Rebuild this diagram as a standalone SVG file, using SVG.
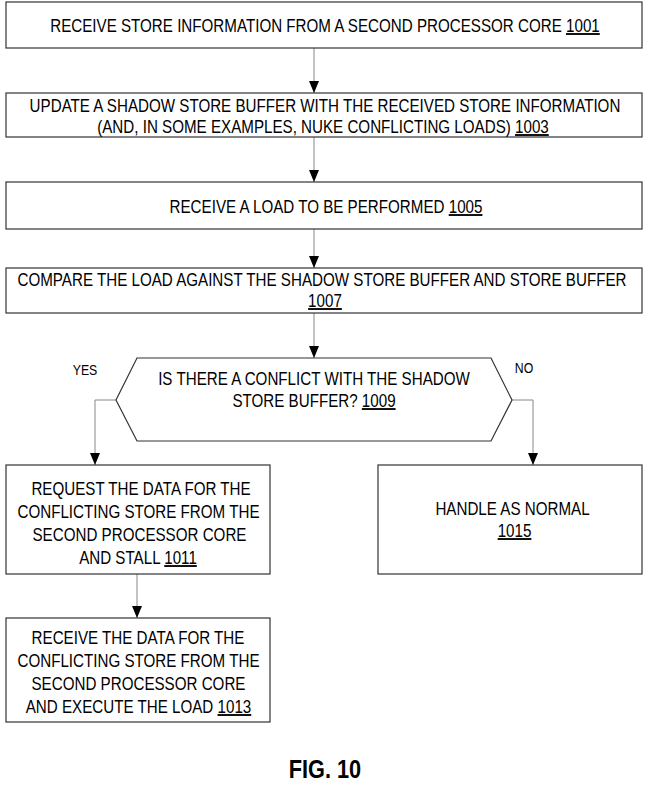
<svg xmlns="http://www.w3.org/2000/svg" width="650" height="800" viewBox="0 0 650 800">
<defs>
<marker id="arr" markerWidth="12" markerHeight="10" refX="12" refY="5" orient="auto" markerUnits="userSpaceOnUse" viewBox="0 0 12 10">
<path d="M0,0 L12,5 L0,10 Z" fill="#000"/>
</marker>
</defs>
<style>
.box{fill:#fff;stroke:#333;stroke-width:1.2}
.t{font-family:"Liberation Sans",Arial,sans-serif;font-size:18.5px;fill:#000;text-anchor:middle}
.u{text-decoration:underline}
.c{fill:none;stroke:#888;stroke-width:1}
.lbl{font-family:"Liberation Sans",Arial,sans-serif;font-size:15px;fill:#000;text-anchor:middle}
.fig{font-family:"Liberation Sans",Arial,sans-serif;font-size:26.5px;font-weight:bold;text-anchor:middle}
</style>
<rect width="650" height="800" fill="#fff"/>
<g id="connectors">
<path class="c" d="M314,48 V93" marker-end="url(#arr)"/>
<path class="c" d="M314,137 V182" marker-end="url(#arr)"/>
<path class="c" d="M314,229 V268" marker-end="url(#arr)"/>
<path class="c" d="M314,313 V358" marker-end="url(#arr)"/>
<path class="c" d="M116,400 H95 V465" marker-end="url(#arr)"/>
<path class="c" d="M512,400 H533 V465" marker-end="url(#arr)"/>
<path class="c" d="M137,574 V618" marker-end="url(#arr)"/>
</g>
<g id="n1001">
<rect class="box" x="6" y="2" width="636" height="46"/>
<text class="t" transform="scale(0.82,1)" x="396.34" y="32">RECEIVE STORE INFORMATION FROM A SECOND PROCESSOR CORE <tspan class="u">1001</tspan></text>
</g>
<g id="n1003">
<rect class="box" x="6" y="93" width="636" height="44"/>
<text class="t" transform="scale(0.82,1)" x="396.34" y="112">UPDATE A SHADOW STORE BUFFER WITH THE RECEIVED STORE INFORMATION</text>
<text class="t" transform="scale(0.82,1)" x="393.9" y="133">(AND, IN SOME EXAMPLES, NUKE CONFLICTING LOADS) <tspan class="u">1003</tspan></text>
</g>
<g id="n1005">
<rect class="box" x="6" y="182" width="636" height="47"/>
<text class="t" transform="scale(0.82,1)" x="397.56" y="213">RECEIVE A LOAD TO BE PERFORMED <tspan class="u">1005</tspan></text>
</g>
<g id="n1007">
<rect class="box" x="6" y="268" width="636" height="45"/>
<text class="t" transform="scale(0.82,1)" x="392.68" y="286">COMPARE THE LOAD AGAINST THE SHADOW STORE BUFFER AND STORE BUFFER</text>
<text class="t u" transform="scale(0.82,1)" x="396.34" y="307">1007</text>
</g>
<g id="n1009">
<polygon class="box" points="137,358 491,358 512,400 491,441 137,441 116,400"/>
<text class="t" transform="scale(0.82,1)" x="382.93" y="385">IS THERE A CONFLICT WITH THE SHADOW</text>
<text class="t" transform="scale(0.82,1)" x="382.93" y="407">STORE BUFFER? <tspan class="u">1009</tspan></text>
</g>
<text class="lbl" transform="scale(0.82,1)" x="103.66" y="375">YES</text>
<text class="lbl" transform="scale(0.82,1)" x="639.02" y="373">NO</text>
<g id="n1011">
<rect class="box" x="6" y="465" width="264" height="109"/>
<text class="t" transform="scale(0.82,1)" x="172" y="495">REQUEST THE DATA FOR THE</text>
<text class="t" transform="scale(0.82,1)" x="168.9" y="518">CONFLICTING STORE FROM THE</text>
<text class="t" transform="scale(0.82,1)" x="170.12" y="541">SECOND PROCESSOR CORE</text>
<text class="t" transform="scale(0.82,1)" x="168.29" y="564">AND STALL <tspan class="u">1011</tspan></text>
</g>
<g id="n1015">
<rect class="box" x="378" y="465" width="264" height="109"/>
<text class="t" transform="scale(0.82,1)" x="625" y="515">HANDLE AS NORMAL</text>
<text class="t u" transform="scale(0.82,1)" x="627.44" y="537">1015</text>
</g>
<g id="n1013">
<rect class="box" x="6" y="618" width="264" height="104"/>
<text class="t" transform="scale(0.82,1)" x="168.29" y="644">RECEIVE THE DATA FOR THE</text>
<text class="t" transform="scale(0.82,1)" x="168.9" y="667">CONFLICTING STORE FROM THE</text>
<text class="t" transform="scale(0.82,1)" x="168.9" y="690">SECOND PROCESSOR CORE</text>
<text class="t" transform="scale(0.82,1)" x="168.9" y="713">AND EXECUTE THE LOAD <tspan class="u">1013</tspan></text>
</g>
<text class="fig" transform="scale(0.82,1)" x="396.34" y="778">FIG. 10</text>
</svg>
